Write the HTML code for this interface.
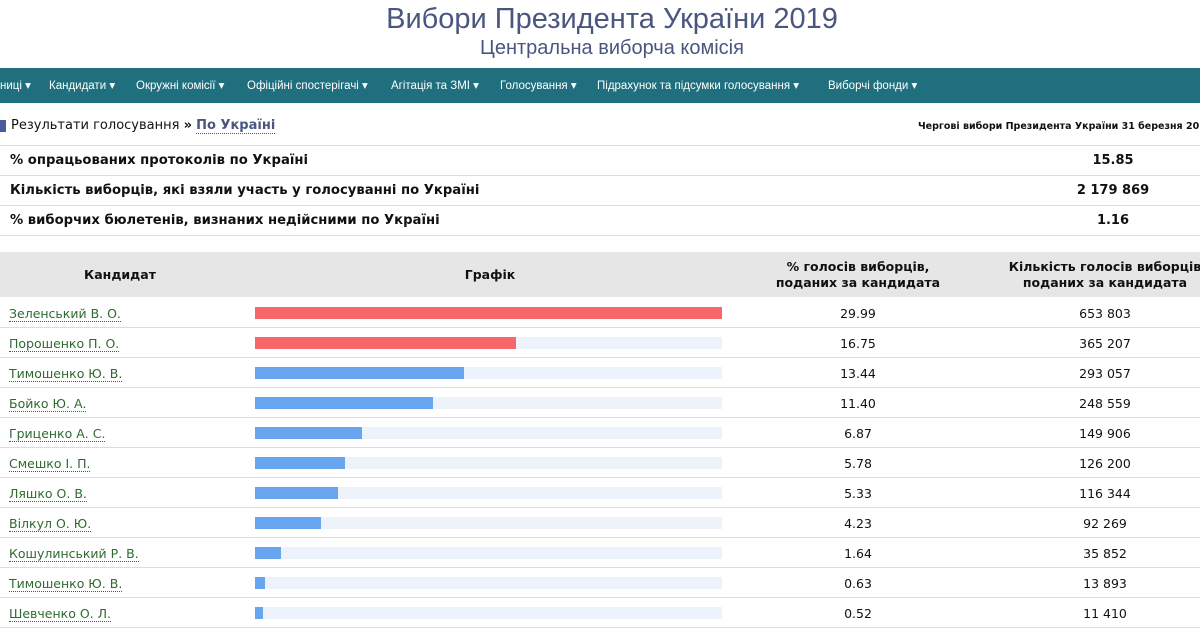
<!DOCTYPE html><html><head><meta charset="utf-8"><style>
*{margin:0;padding:0;box-sizing:border-box}
body{width:1200px;height:630px;overflow:hidden;background:#fff;font-family:"DejaVu Sans","Liberation Sans",sans-serif;position:relative;color:#111}
.a{position:absolute;white-space:nowrap}
.t1{left:0;width:1224px;text-align:center;top:3px;font-size:29px;color:#4a5680;font-family:"Liberation Sans",sans-serif}
.t2{left:0;width:1224px;text-align:center;top:37px;font-size:20px;color:#4a5680;font-family:"Liberation Sans",sans-serif}
.nav{left:0;top:68px;width:1200px;height:35px;background:#1f6f7e;color:#fff;font-size:11.5px;line-height:37px;font-family:"Liberation Sans",sans-serif}
.nav span{position:absolute}
.line{left:0;width:1200px;height:1px;background:#ddd}
.ib{font-weight:bold;font-size:13.2px;left:10px}
.iv{font-weight:bold;font-size:13px;width:80px;text-align:center;left:1073px}
.hd{left:0;top:252px;width:1200px;height:45px;background:#e6e6e6}
.h{font-weight:bold;font-size:12.5px;text-align:center;line-height:16px}
.nm{left:9px;font-size:12.5px;color:#2f6a2f;border-bottom:1px dotted #2f6a2f;line-height:15px}
.bg{left:255px;width:467px;height:12px;background:#eef3fb}
.br{left:255px;height:12px}
.p{left:818px;width:80px;text-align:center;font-size:12.5px}
.v{left:1065px;width:80px;text-align:center;font-size:12.5px}
</style></head><body>
<div class="a t1">Вибори Президента України 2019</div>
<div class="a t2">Центральна виборча комісія</div>
<div class="a nav"><span style="left:0">ниці ▾</span><span style="left:49px">Кандидати ▾</span><span style="left:136px">Окружні комісії ▾</span><span style="left:247px">Офіційні спостерігачі ▾</span><span style="left:391px">Агітація та ЗМІ ▾</span><span style="left:500px">Голосування ▾</span><span style="left:597px">Підрахунок та підсумки голосування ▾</span><span style="left:828px">Виборчі фонди ▾</span></div>
<div class="a" style="left:0;top:120px;width:6px;height:12px;background:#4a5a9a"></div>
<div class="a" style="left:11px;top:118px;font-size:13px">Результати голосування <b>»</b> <b style="color:#4a5680;border-bottom:1px dotted #4a5680">По Україні</b></div>
<div class="a" style="left:918px;top:121px;font-size:9.5px;font-weight:bold">Чергові вибори Президента України 31 березня 2019</div>
<div class="a line" style="top:145px"></div>
<div class="a line" style="top:175px"></div>
<div class="a line" style="top:205px"></div>
<div class="a line" style="top:235px"></div>
<div class="a ib" style="top:153px">% опрацьованих протоколів по Україні</div><div class="a iv" style="top:153px">15.85</div>
<div class="a ib" style="top:183px">Кількість виборців, які взяли участь у голосуванні по Україні</div><div class="a iv" style="top:183px">2 179 869</div>
<div class="a ib" style="top:213px">% виборчих бюлетенів, визнаних недійсними по Україні</div><div class="a iv" style="top:213px">1.16</div>
<div class="a hd"></div>
<div class="a h" style="left:60px;width:120px;top:267px">Кандидат</div>
<div class="a h" style="left:430px;width:120px;top:267px">Графік</div>
<div class="a h" style="left:758px;width:200px;top:259px">% голосів виборців,<br>поданих за кандидата</div>
<div class="a h" style="left:995px;width:220px;top:259px">Кількість голосів виборців<br>поданих за кандидата</div>
<div id="rows"></div>
<script>
var d=[["Зеленський В. О.",29.99,"653 803"],["Порошенко П. О.",16.75,"365 207"],["Тимошенко Ю. В.",13.44,"293 057"],["Бойко Ю. А.",11.40,"248 559"],["Гриценко А. С.",6.87,"149 906"],["Смешко І. П.",5.78,"126 200"],["Ляшко О. В.",5.33,"116 344"],["Вілкул О. Ю.",4.23,"92 269"],["Кошулинський Р. В.",1.64,"35 852"],["Тимошенко Ю. В.",0.63,"13 893"],["Шевченко О. Л.",0.52,"11 410"]];
var h="";d.forEach(function(r,i){var y=298+i*30;var w=Math.round(r[1]/29.99*467);
h+='<div class="a nm" style="top:'+(y+8)+'px">'+r[0]+'</div><div class="a bg" style="top:'+(y+9)+'px"></div><div class="a br" style="top:'+(y+9)+'px;width:'+w+'px;background:'+(i<2?'#f76668':'#67a5f0')+'"></div><div class="a p" style="top:'+(y+8)+'px">'+r[1].toFixed(2)+'</div><div class="a v" style="top:'+(y+8)+'px">'+r[2]+'</div><div class="a line" style="top:'+(y+29)+'px"></div>';});
document.getElementById("rows").innerHTML=h;
</script>
</body></html>
